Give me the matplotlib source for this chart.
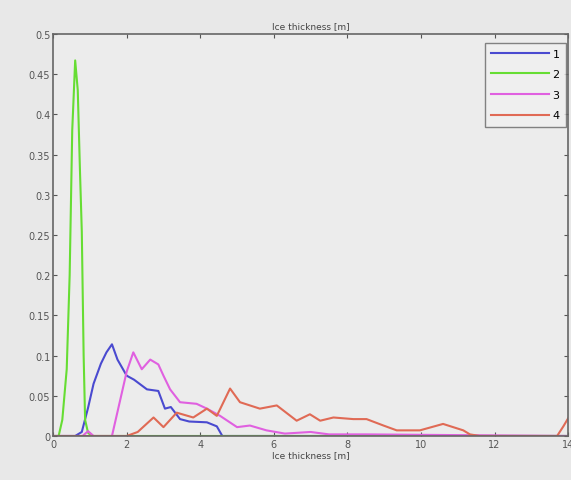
import matplotlib
matplotlib.use("Agg")
import matplotlib.pyplot as plt

# Series 1 (blue)
x1 = [0, 0.6, 0.78, 0.95, 1.1, 1.3, 1.45, 1.6, 1.75, 2.0, 2.2, 2.55, 2.86, 3.04, 3.2, 3.45, 3.7, 4.18, 4.45, 4.6, 14]
y1 = [0, 0, 0.005, 0.035, 0.065, 0.09, 0.104, 0.114, 0.095, 0.075, 0.07, 0.058, 0.056, 0.034, 0.036, 0.021, 0.018, 0.017, 0.012, 0, 0]
# Series 2 (green)
x2 = [0, 0.15, 0.25, 0.37, 0.45, 0.52, 0.6, 0.67, 0.73, 0.78, 0.83, 0.87, 0.95, 1.05, 14]
y2 = [0, 0, 0.02, 0.083, 0.2, 0.38, 0.467, 0.43, 0.33, 0.254, 0.1, 0.02, 0.004, 0, 0]
# Series 3 (magenta)
x3 = [0, 0.8, 0.95, 1.1, 1.6, 1.8, 2.0, 2.18, 2.41, 2.64, 2.86, 3.0, 3.18, 3.45, 3.9, 4.18, 4.54, 5.0, 5.35, 5.8, 6.3, 7.0, 7.5, 8.5, 14]
y3 = [0, 0, 0.006, 0, 0, 0.04, 0.08, 0.104, 0.083, 0.095, 0.089, 0.075, 0.058, 0.042, 0.04, 0.034, 0.025, 0.011, 0.013, 0.007, 0.003, 0.005, 0.002, 0.002, 0]
# Series 4 (red)
x4 = [0, 2.0, 2.3, 2.73, 3.0, 3.36, 3.81, 4.18, 4.45, 4.81, 5.08, 5.62, 6.08, 6.62, 6.98, 7.26, 7.62, 8.16, 8.52, 8.98, 9.34, 9.97, 10.6, 11.15, 11.33, 11.6, 13.7, 13.87, 14]
y4 = [0, 0, 0.005, 0.023, 0.011, 0.029, 0.023, 0.034, 0.025, 0.059, 0.042, 0.034, 0.038, 0.019, 0.027, 0.019, 0.023, 0.021, 0.021, 0.013, 0.007, 0.007, 0.015, 0.007, 0.002, 0, 0, 0.012, 0.022]

labels = ["1", "2", "3", "4"]
colors = ["#4a4ad0", "#66dd33", "#e060e0", "#e06a55"]

fig = plt.figure(figsize=(5.71, 4.81), dpi=100, facecolor="#e8e8e8")
ax = fig.add_axes([0.093, 0.0915, 0.902, 0.836])
ax.set_facecolor("#ececec")

for xs, ys, c, lab in zip([x1, x2, x3, x4], [y1, y2, y3, y4], colors, labels):
    ax.plot(xs, ys, color=c, lw=1.5, label=lab)

ax.set_xlim(0, 14)
ax.set_ylim(0, 0.5)
ax.set_xticks([0, 2, 4, 6, 8, 10, 12, 14])
ax.set_yticks([0, 0.05, 0.1, 0.15, 0.2, 0.25, 0.3, 0.35, 0.4, 0.45, 0.5])
ax.set_xticklabels(["0", "2", "4", "6", "8", "10", "12", "14"])
ax.set_yticklabels(["0", "0.05", "0.1", "0.15", "0.2", "0.25", "0.3", "0.35", "0.4", "0.45", "0.5"])
ax.tick_params(direction="in", top=True, right=True, labelsize=7, length=3, colors="#555555", pad=2)
for s in ax.spines.values():
    s.set_color("#666666")
    s.set_linewidth(1.2)

ax.set_title("Ice thickness [m]", fontsize=6.5, color="#444444", pad=4)
ax.set_xlabel("Ice thickness [m]", fontsize=6.5, color="#444444", labelpad=1)

leg = ax.legend(loc="upper right", bbox_to_anchor=(0.995, 0.978), fontsize=8, frameon=True,
                fancybox=False, handlelength=5.2, borderpad=0.55, labelspacing=0.95,
                handletextpad=0.3, borderaxespad=0)
leg.get_frame().set_edgecolor("#666666")
leg.get_frame().set_facecolor("#f0f0f0")

fig.savefig("out.png", dpi=100, facecolor=fig.get_facecolor())
